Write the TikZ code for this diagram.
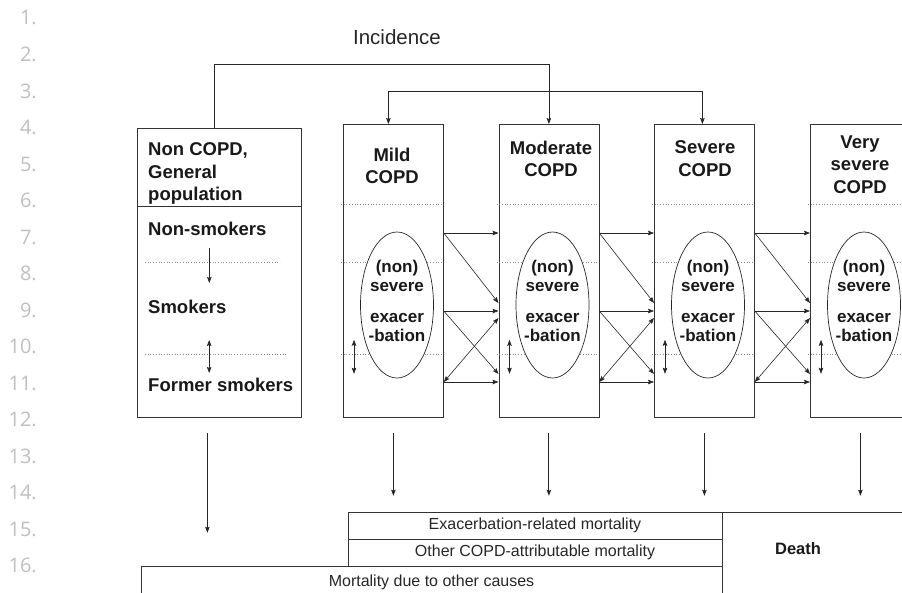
\documentclass[tikz,border=0pt]{standalone}
\usepackage{fontspec}
\setmainfont{Liberation Sans}
\newfontfamily\numfont{Open Sans}
\usetikzlibrary{arrows.meta,shapes.geometric,calc}

\begin{document}
\begin{tikzpicture}[x=1pt,y=-1pt,>={Stealth[length=6pt,width=4.5pt,inset=1pt]}]
\tikzstyle{every node}=[inner sep=0pt]
\tikzstyle{stage}=[draw=black!80,line width=0.8pt,minimum width=100pt,minimum height=293pt,anchor=north west]
\tikzstyle{title}=[font=\fontsize{18.5}{22.5}\selectfont\bfseries,text=black!90,align=center,anchor=north]
\tikzstyle{item}=[font=\fontsize{18.5}{22.5}\selectfont\bfseries,text=black!90,anchor=west]
\tikzstyle{exac}=[draw=black!85,line width=0.7pt,ellipse,fill=white,minimum width=73pt,minimum height=146pt]
\tikzstyle{exactext}=[font=\fontsize{17}{19.5}\selectfont\bfseries,text=black!90,align=center]
\tikzstyle{sep}=[dotted,black!45,line width=0.7pt]
\tikzstyle{flow}=[->,line width=0.6pt,black!85]
\tikzstyle{death}=[->,line width=1.1pt,black!85]
\tikzstyle{mort}=[draw=black!80,line width=0.8pt,outer sep=0pt,anchor=north west,font=\fontsize{16}{18}\selectfont,text=black!85]
\tikzstyle{lineno}=[anchor=east,text=black!25,font=\numfont\fontsize{20}{22}\selectfont]

\useasboundingbox (0,0) rectangle (902,592);
\clip (0,0) rectangle (902,592);

\foreach \i in {1,...,16}
  \node[lineno] (n\i) at (37,{18+36.5*(\i-1)}) {\i.};

\node[font=\fontsize{20.5}{22}\selectfont,text=black!85] (inc) at (397,37) {Incidence};

\node[stage,minimum width=164pt,minimum height=289pt] (ncopd) at (137,128) {};
\foreach \x/\n in {343/mild,498.5/moderate,654/severe,810/vsevere} {
  \node[stage] (\n) at (\x,124) {};
  \foreach \y in {204,262,354}
    \draw[sep] (\x-2,\y) -- (\x+100,\y);
  \node[exac] (ex\n) at (\x+54,305) {};
  \node[exactext] (lbl\n) at (\x+54,301) {(non)\\severe\\[11pt]exacer\\-bation};
  \draw[flow,<->] ($(\n.south west)+(11,-78)$) -- ($(\n.south west)+(11,-44)$);
  \draw[death] ($(\n.south)+(0,15)$) -- ++(0,63);
}

\node[title,align=left,anchor=north west] (tncopd) at (148,142.4) {Non COPD,\\General\\population};
\node[title] (tmild) at (392,147.4) {Mild\\COPD};
\node[title] (tmoderate) at (551,140.4) {Moderate\\COPD};
\node[title] (tsevere) at (705,140.4) {Severe\\COPD};
\node[title] (tvsevere) at (860,135.4) {Very\\severe\\COPD};

\draw[line width=0.8pt,black!80] ($(ncopd.north west)+(0,78)$) -- ($(ncopd.north east)+(0,78)$);
\node[item] (nons) at (148,229) {Non-smokers};
\node[item] (smok) at (148,307) {Smokers};
\node[item] (fsmok) at (148,385) {Former smokers};
\draw[sep] (145,262) -- (280,262);
\draw[sep] (145,354) -- (287,354);
\draw[flow] ($(nons.south)+(2,12)$) -- ($(nons.south)+(2,47)$);
\draw[flow,<->] ($(fsmok.north)+(-11.5,-38)$) -- ($(fsmok.north)+(-11.5,-5)$);

\draw[flow] ($(ncopd.north)+(-5,0)$) -- ++(0,-64) -| (moderate.north);
\draw[flow,<->] ($(mild.north)+(-5,0)$) -- ++(0,-33) -| ($(severe.north)+(-2,0)$);

\foreach \a/\b in {mild/moderate,moderate/severe,severe/vsevere} {
  \draw[flow] ($(\a.north east)+(0,109)$) -- ($(\b.north west)+(0,109)$);
  \draw[flow] ($(\a.north east)+(0,109)$) -- ($(\b.north west)+(0,179)$);
  \draw[flow] ($(\a.north east)+(0,187)$) -- ($(\b.north west)+(0,187)$);
  \draw[flow] ($(\a.north east)+(0,187)$) -- ($(\b.north west)+(0,250)$);
  \draw[flow,<->] ($(\a.north east)+(0,258)$) -- ($(\b.north west)+(0,194)$);
  \draw[flow] ($(\a.north east)+(0,258)$) -- ($(\b.north west)+(0,258)$);
}

\draw[death] ($(ncopd.south)+(-12,15)$) -- ++(0,100);

\node[mort,minimum width=374pt,minimum height=27pt] (exmort) at (348,512) {Exacerbation-related mortality};
\node[mort,minimum width=374pt,minimum height=27pt] (copdmort) at (exmort.south west) {Other COPD-attributable mortality};
\node[mort,minimum width=581pt,minimum height=32pt] (othmort) at (141,566) {Mortality due to other causes};
\node[mort,minimum width=190pt,minimum height=90pt] (death) at (722,512) {};
\node[font=\fontsize{16.5}{18}\selectfont\bfseries,text=black!90] (tdeath) at (798,549) {Death};
\end{tikzpicture}
\end{document}
